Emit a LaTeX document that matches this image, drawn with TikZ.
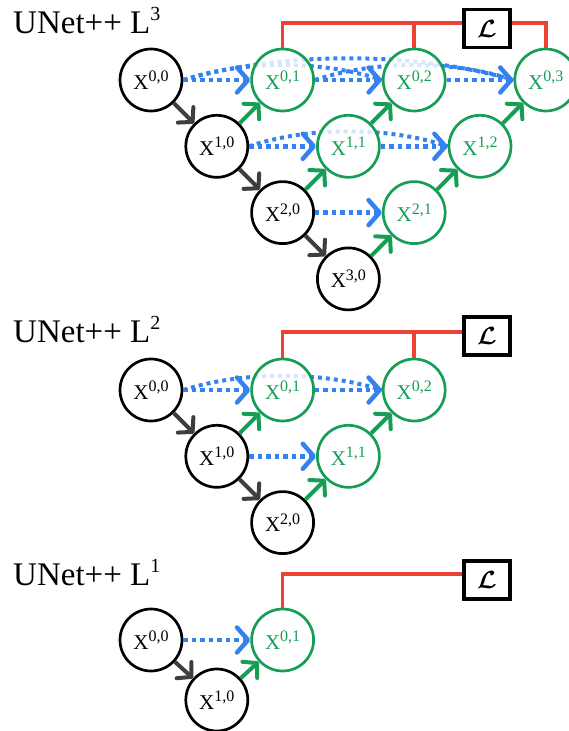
\documentclass[tikz,border=0pt]{standalone}
\usepackage{bm}
\usepackage{fontspec}
\setmainfont{Liberation Serif}
\usetikzlibrary{arrows.meta,backgrounds}

\definecolor{nodegreen}{RGB}{22,158,86}
\definecolor{skipblue}{RGB}{52,130,240}
\definecolor{lossred}{RGB}{236,66,54}
\definecolor{downgray}{RGB}{62,62,62}

% label of a node: X with its two indices as a superscript
\newcommand{\nodelab}[2]{X\raisebox{7.5pt}{\fontsize{16}{16}\selectfont #1,#2}}
\newcommand{\losssym}{$\bm{\mathcal{L}}$}
\newcommand{\titlesup}[1]{\raisebox{13pt}{\fontsize{20}{20}\selectfont #1}}

\tikzset{
  enc/.style={circle, draw=black, line width=2.7pt, minimum size=62pt, inner sep=0pt,
    fill=white, fill opacity=0.8, text opacity=1, font=\fontsize{21}{21}\selectfont},
  dec/.style={enc, draw=nodegreen, text=nodegreen},
  downarrow/.style={draw=downgray, line width=4pt, -{Straight Barb[length=10pt,width=22pt,round]}},
  uparrow/.style={draw=nodegreen, line width=4pt, -{Straight Barb[length=10pt,width=22pt,round]}},
  skiparrow/.style={draw=skipblue, line width=4.5pt, dash pattern=on 4.5pt off 4pt,
    -{Straight Barb[length=11pt,width=25pt,round]}},
  skiparc/.style={draw=skipblue, line width=4pt, dash pattern=on 4pt off 4pt},
  lossbox/.style={draw=black, line width=3.5pt, fill=white, minimum width=46pt,
    minimum height=38pt, inner sep=0pt, font=\fontsize{23}{23}\selectfont},
  lossline/.style={draw=lossred, line width=3.5pt},
  titletext/.style={anchor=base west, inner sep=0pt, font=\fontsize{33}{33}\selectfont}
}

\begin{document}
\begin{tikzpicture}[x=1pt, y=-1pt]
\useasboundingbox (0,0) rectangle (569,731);

% ---------------- UNet++ L3 ----------------
\node[titletext] (t3) at (13,33) {UNet++ L\titlesup{3}};
\node[enc] (a00) at (151,80)    {\nodelab{0}{0}};
\node[dec] (a01) at (282.6,80)  {\nodelab{0}{1}};
\node[dec] (a02) at (414.2,80)  {\nodelab{0}{2}};
\node[dec] (a03) at (545.8,80)  {\nodelab{0}{3}};
\node[enc] (a10) at (216.8,146.3) {\nodelab{1}{0}};
\node[dec] (a11) at (348.4,146.3) {\nodelab{1}{1}};
\node[dec] (a12) at (480,146.3)   {\nodelab{1}{2}};
\node[enc] (a20) at (282.6,212.6) {\nodelab{2}{0}};
\node[dec] (a21) at (414.2,212.6) {\nodelab{2}{1}};
\node[enc] (a30) at (348.4,278.9) {\nodelab{3}{0}};
\node[lossbox] (lossA) at (487,28.5) {\losssym};
\coordinate (busA) at (0,23);

\begin{pgfonlayer}{background}
  \draw[skiparc] (a00.east) .. controls +(60,-20) and +(-60,-20) .. (a02.west);
  \draw[skiparc] (a00.east) .. controls +(100,-29) and +(-100,-29) .. (a03.west);
  \draw[skiparc] (a01.east) .. controls +(60,-20) and +(-60,-20) .. (a03.west);
  \draw[skiparc] (a10.east) .. controls +(60,-20) and +(-60,-20) .. (a12.west);
\end{pgfonlayer}

\draw[lossline] (a01.north) |- (lossA.west |- busA);
\draw[lossline] (a02.north) -- (a02.north |- busA);
\draw[lossline] (a03.north) |- (lossA.east |- busA);

\draw[downarrow] (a00) -- (a10);
\draw[downarrow] (a10) -- (a20);
\draw[downarrow] (a20) -- (a30);
\draw[uparrow] (a10) -- (a01);
\draw[uparrow] (a20) -- (a11);
\draw[uparrow] (a11) -- (a02);
\draw[uparrow] (a30) -- (a21);
\draw[uparrow] (a21) -- (a12);
\draw[uparrow] (a12) -- (a03);
\draw[skiparrow] (a00) -- (a01);
\draw[skiparrow] (a01) -- (a02);
\draw[skiparrow] (a02) -- (a03);
\draw[skiparrow] (a10) -- (a11);
\draw[skiparrow] (a11) -- (a12);
\draw[skiparrow] (a20) -- (a21);

% ---------------- UNet++ L2 ----------------
\node[titletext] (t2) at (13,342) {UNet++ L\titlesup{2}};
\node[enc] (b00) at (151,390)   {\nodelab{0}{0}};
\node[dec] (b01) at (282.6,390) {\nodelab{0}{1}};
\node[dec] (b02) at (414.2,390) {\nodelab{0}{2}};
\node[enc] (b10) at (216.8,456.3) {\nodelab{1}{0}};
\node[dec] (b11) at (348.4,456.3) {\nodelab{1}{1}};
\node[enc] (b20) at (282.6,522.6) {\nodelab{2}{0}};
\node[lossbox] (lossB) at (487,336) {\losssym};
\coordinate (busB) at (0,332);

\begin{pgfonlayer}{background}
  \draw[skiparc] (b00.east) .. controls +(60,-19) and +(-60,-19) .. (b02.west);
\end{pgfonlayer}

\draw[lossline] (b01.north) |- (lossB.west |- busB);
\draw[lossline] (b02.north) -- (b02.north |- busB);

\draw[downarrow] (b00) -- (b10);
\draw[downarrow] (b10) -- (b20);
\draw[uparrow] (b10) -- (b01);
\draw[uparrow] (b20) -- (b11);
\draw[uparrow] (b11) -- (b02);
\draw[skiparrow] (b00) -- (b01);
\draw[skiparrow] (b01) -- (b02);
\draw[skiparrow] (b10) -- (b11);

% ---------------- UNet++ L1 ----------------
\node[titletext] (t1) at (13,585) {UNet++ L\titlesup{1}};
\node[enc] (c00) at (151,640)   {\nodelab{0}{0}};
\node[dec] (c01) at (282.6,640) {\nodelab{0}{1}};
\node[enc] (c10) at (216.8,700) {\nodelab{1}{0}};
\node[lossbox] (lossC) at (487,580) {\losssym};
\coordinate (busC) at (0,574);

\draw[lossline] (c01.north) |- (lossC.west |- busC);

\draw[downarrow] (c00) -- (c10);
\draw[uparrow] (c10) -- (c01);
\draw[skiparrow] (c00) -- (c01);
\end{tikzpicture}
\end{document}
